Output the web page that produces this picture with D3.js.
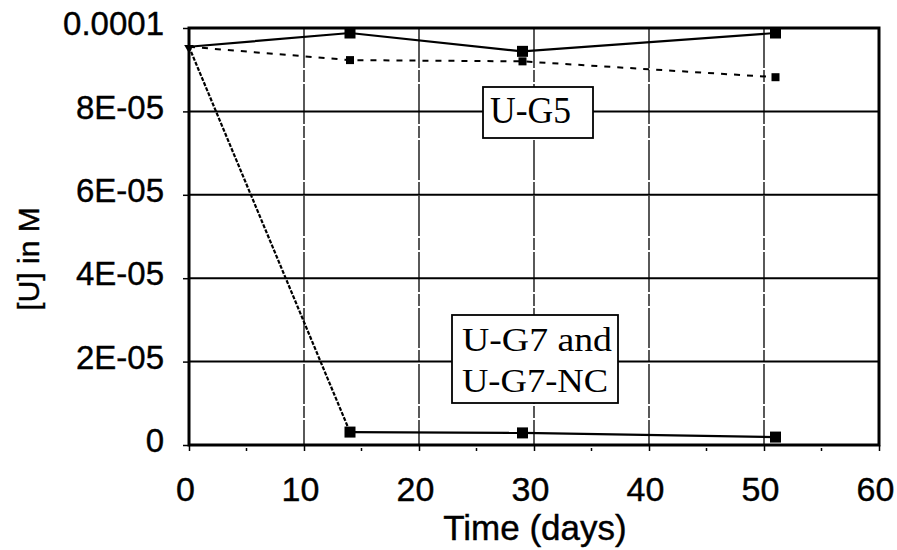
<!DOCTYPE html>
<html>
<head>
<meta charset="utf-8">
<script src="https://cdn.jsdelivr.net/npm/d3@7"></script>
<style>
  html, body { margin: 0; padding: 0; background: #fff; }
  svg { display: block; }
</style>
</head>
<body>
<svg id="chart" width="897" height="550"></svg>
<script>
// Sampling times (days)
const days = [0, 14, 29, 51];
// Uranium concentration, M
const ugSolid = [9.55e-5, 9.88e-5, 9.44e-5, 9.88e-5];
const ugDashed = [9.55e-5, 9.23e-5, 9.2e-5, 8.82e-5];
const ug7 = [9.55e-5, 3.1e-6, 2.9e-6, 1.9e-6];
// Axis ticks
const xTicks = [0, 10, 20, 30, 40, 50, 60];
const xMinor = [5, 15, 25, 35, 45, 55];
const yTicks = [0, 2e-5, 4e-5, 6e-5, 8e-5, 1e-4];
const yTickLabels = ["0", "2E-05", "4E-05", "6E-05", "8E-05", "0.0001"];

const svg = d3.select("#chart");
const x = d3.scaleLinear().domain([0, 60]).range([189, 879]);
const y = d3.scaleLinear().domain([0, 1e-4]).range([445, 28]);
const sans = "'Liberation Sans', Arial, sans-serif";
const serif = "'Liberation Serif', 'Times New Roman', serif";

// Grid
const grid = svg.append("g");
grid.selectAll("line.h").data(yTicks.slice(1, -1)).join("line")
  .attr("x1", x(0)).attr("x2", x(60))
  .attr("y1", d => y(d)).attr("y2", d => y(d))
  .attr("stroke", "#000").attr("stroke-width", 2);
grid.selectAll("line.v").data(xTicks.slice(1, -1)).join("line")
  .attr("y1", y(1e-4)).attr("y2", y(0))
  .attr("x1", d => x(d)).attr("x2", d => x(d))
  .attr("stroke", "#000").attr("stroke-width", 1.3)
  .attr("stroke-dasharray", "40,2,12,2");

// Y axis ticks and labels
const yAxis = svg.append("g")
  .attr("transform", `translate(${x(0)},0)`)
  .call(d3.axisLeft(y).tickValues(yTicks).tickFormat((d, i) => yTickLabels[i]).tickSize(6).tickPadding(19));
yAxis.select(".domain").remove();
yAxis.selectAll("line").attr("stroke", "#000").attr("stroke-width", 1.5);
yAxis.selectAll("text")
  .attr("font-family", sans).attr("font-size", 33).attr("fill", "#000")
  .attr("stroke", "#000").attr("stroke-width", 0.4)
  .attr("dy", "0.2em");

// X axis ticks and labels
const xAxis = svg.append("g")
  .attr("transform", `translate(0,${y(0)})`)
  .call(d3.axisBottom(x).tickValues(xTicks).tickFormat(d3.format("d")).tickSize(6).tickPadding(26));
xAxis.select(".domain").remove();
xAxis.selectAll("line").attr("stroke", "#000").attr("stroke-width", 1.5);
xAxis.selectAll("text")
  .attr("font-family", sans).attr("font-size", 34).attr("fill", "#000")
  .attr("stroke", "#000").attr("stroke-width", 0.4)
  .attr("dx", -4);
svg.append("g").selectAll("line").data(xMinor).join("line")
  .attr("x1", d => x(d)).attr("x2", d => x(d))
  .attr("y1", y(0) + 3).attr("y2", y(0) + 6)
  .attr("stroke", "#000").attr("stroke-width", 1.5);

// Axis titles
svg.append("text")
  .attr("x", 535).attr("y", 540)
  .attr("text-anchor", "middle")
  .attr("font-family", sans).attr("font-size", 35)
  .attr("stroke", "#000").attr("stroke-width", 0.4)
  .text("Time (days)");
svg.append("text")
  .attr("transform", "translate(39,259) rotate(-90)")
  .attr("text-anchor", "middle")
  .attr("font-family", sans).attr("font-size", 30)
  .attr("stroke", "#000").attr("stroke-width", 0.4)
  .text("[U] in M");

// Series lines
const line = d3.line().x(d => x(d[0])).y(d => y(d[1]));
const pairs = vals => days.map((d, i) => [d, vals[i]]);

svg.append("path").datum(pairs(ugDashed)).attr("d", line)
  .attr("fill", "none").attr("stroke", "#000").attr("stroke-width", 2)
  .attr("stroke-dasharray", "6,7");
svg.append("path").datum(pairs(ugSolid)).attr("d", line)
  .attr("fill", "none").attr("stroke", "#000").attr("stroke-width", 2.2);

// U-G7: first segment drawn dashed, the rest solid
const g7 = pairs(ug7);
const g7Segs = d3.pairs(g7);
svg.append("g").selectAll("path").data(g7Segs).join("path")
  .attr("d", d => line(d))
  .attr("fill", "none").attr("stroke", "#000").attr("stroke-width", 2.2)
  .attr("stroke-dasharray", (d, i) => i === 0 ? "4,1.5" : null);

// Markers
function markers(vals, size) {
  svg.append("g").selectAll("rect").data(pairs(vals).slice(1)).join("rect")
    .attr("x", d => x(d[0]) - size / 2).attr("y", d => y(d[1]) - size / 2)
    .attr("width", size).attr("height", size).attr("fill", "#000");
}
markers(ugSolid, 11);
markers(ugDashed, 8);
markers(ug7, 11);
svg.append("path")
  .attr("d", d3.symbol(d3.symbolTriangle, 40)())
  .attr("transform", `translate(${x(0)},${y(ug7[0]) + 1}) rotate(180)`)
  .attr("fill", "#000");

// Plot frame
svg.append("rect")
  .attr("x", x(0)).attr("y", y(1e-4))
  .attr("width", x(60) - x(0)).attr("height", y(0) - y(1e-4))
  .attr("fill", "none").attr("stroke", "#000").attr("stroke-width", 3);

// Annotation boxes
function labelBox(bx, by, bw, bh, lines) {
  const g = svg.append("g");
  g.append("rect").attr("x", bx).attr("y", by).attr("width", bw).attr("height", bh)
    .attr("fill", "#fff").attr("stroke", "#000").attr("stroke-width", 1.8);
  lines.forEach(l => {
    g.append("text")
      .attr("x", l.x).attr("y", l.y)
      .attr("font-family", serif).attr("font-size", l.size)
      .attr("textLength", l.len).attr("lengthAdjust", "spacingAndGlyphs")
      .text(l.text);
  });
}
labelBox(483, 87, 110, 51, [{ text: "U-G5", x: 490, y: 123, size: 38, len: 81 }]);
labelBox(452, 315, 166, 88, [
  { text: "U-G7 and", x: 462, y: 351, size: 33, len: 150 },
  { text: "U-G7-NC", x: 462, y: 392, size: 33, len: 146 }
]);
</script>
</body>
</html>
